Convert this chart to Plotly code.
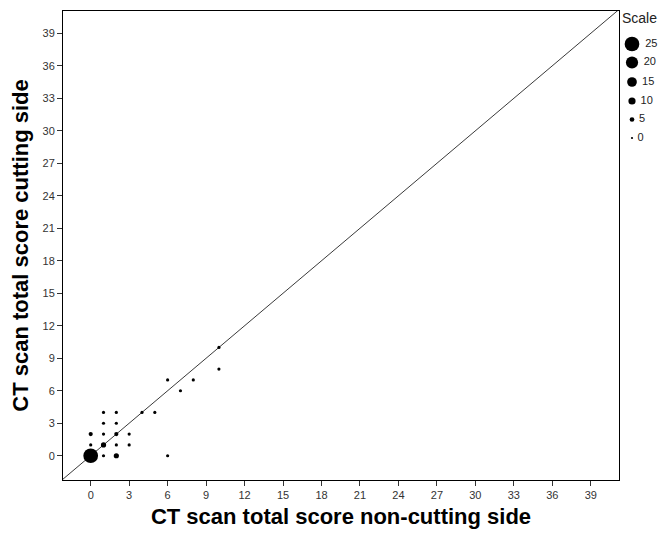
import plotly.graph_objects as go

# Data: (non-cutting side score, cutting side score, count of cases)
x_noncut = [0, 1, 2, 6, 0, 1, 2, 3, 0, 1, 2, 3, 1, 2, 1, 2, 4, 5, 6, 7, 8, 10, 10]
y_cut    = [0, 0, 0, 0, 1, 1, 1, 1, 2, 2, 2, 2, 3, 3, 4, 4, 4, 4, 7, 6, 7, 10, 8]
counts   = [25, 2, 6, 2, 2, 6, 2, 2, 4, 2, 4, 2, 2, 2, 2, 2, 2, 2, 2, 2, 2, 2, 2]

scale_values = [25, 20, 15, 10, 5, 0]
tick_vals = list(range(0, 40, 3))

FONT = "Liberation Sans, Arial, sans-serif"


def diam(c):
    return 2.2 + 0.5 * c


fig = go.Figure()

# identity line
fig.add_trace(go.Scatter(x=[-5, 45], y=[-5, 45], mode="lines",
                         line=dict(color="#3a3a3a", width=1),
                         hoverinfo="skip", showlegend=False))

fig.add_trace(go.Scatter(x=x_noncut, y=y_cut, mode="markers",
                         marker=dict(size=[diam(c) for c in counts], color="black",
                                     opacity=1, line=dict(width=0)),
                         showlegend=False))

# page body has an 8px margin; figure is sized/placed so the plot lands where the reference is
W, H = 661, 531
L, R, T, B = 55, 0, 3, 59
pw = W - L - R
main_right = (611 - L) / pw

# size legend on a secondary axis in figure-pixel coordinates
leg_y = [36, 54.5, 74, 93, 111.5, 130]
fig.add_trace(go.Scatter(x=[624] * len(scale_values), y=leg_y,
                         mode="markers+text",
                         marker=dict(size=[diam(v) for v in scale_values], color="black",
                                     opacity=1, line=dict(width=0)),
                         text=[f" {v}" for v in scale_values],
                         textposition="middle right",
                         textfont=dict(family=FONT, size=11, color="#222"),
                         xaxis="x2", yaxis="y2", showlegend=False, cliponaxis=False,
                         hoverinfo="skip"))

axis_common = dict(showgrid=False, zeroline=False, showline=True, linecolor="black",
                   linewidth=1, mirror=True, ticks="outside", ticklen=5, tickcolor="#333",
                   tickfont=dict(family=FONT, size=11, color="#333"),
                   tickvals=tick_vals)

fig.update_layout(
    width=W, height=H,
    margin=dict(l=L, r=R, t=T, b=B),
    plot_bgcolor="white", paper_bgcolor="white",
    xaxis=dict(domain=[0, main_right], range=[-2.16, 41.2],
               title=dict(text="<b>CT scan total score non-cutting side</b>",
                          font=dict(family=FONT, size=22, color="black"),
                          standoff=8),
               **axis_common),
    yaxis=dict(range=[-2.24, 41.06],
               title=dict(text="<b>CT scan total score cutting side</b>",
                          font=dict(family=FONT, size=22, color="black"),
                          standoff=8),
               **axis_common),
    xaxis2=dict(domain=[main_right, 1], range=[611, 661], visible=False, anchor="y2"),
    yaxis2=dict(domain=[0, 1], range=[472, 3], visible=False, anchor="x2"),
    annotations=[dict(text="Scale", x=612, y=10, xref="x2", yref="y2",
                      xanchor="left", yanchor="middle", showarrow=False,
                      font=dict(family=FONT, size=14, color="#222"))],
)

fig.write_html("out.html")
